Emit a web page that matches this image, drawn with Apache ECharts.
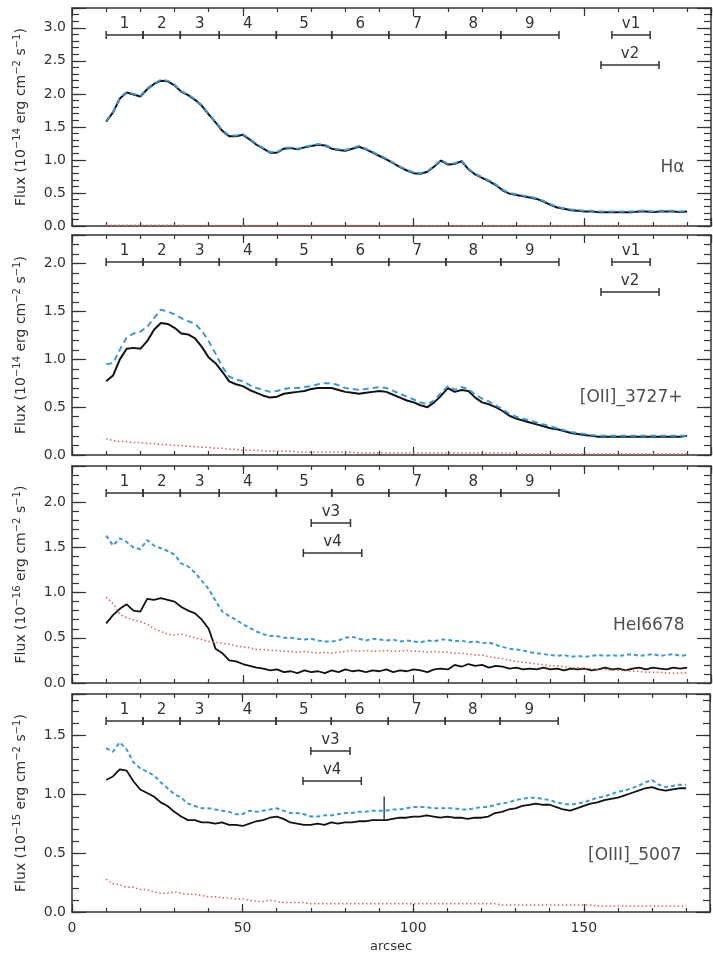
<!DOCTYPE html>
<html><head><meta charset="utf-8">
<script src="https://cdn.jsdelivr.net/npm/echarts@6/dist/echarts.min.js"></script>
<style>html,body{margin:0;padding:0;background:#fff}#c{width:713px;height:956px}</style>
</head><body><div id="c"></div>
<script>
// ---------------- DATA ----------------
const xs = [10,12,14,16,18,20,22,24,26,28,
 30,32,34,36,38,40,42,44,46,48,
 50,52,54,56,58,60,62,64,66,68,
 70,72,74,76,78,80,82,84,86,88,
 90,92,94,96,98,100,102,104,106,108,
 110,112,114,116,118,120,122,124,126,128,
 130,132,134,136,138,140,142,144,146,148,
 150,152,154,156,158,160,162,164,166,168,
 170,172,174,176,178,180];

const haObs = [1.58,1.72,1.93,2.02,1.99,1.96,2.07,2.15,2.20,2.19,
 2.13,2.03,1.98,1.91,1.82,1.69,1.57,1.44,1.36,1.36,
 1.38,1.31,1.23,1.17,1.11,1.11,1.17,1.18,1.16,1.19,
 1.21,1.23,1.22,1.17,1.15,1.14,1.17,1.20,1.16,1.11,
 1.06,1.01,0.95,0.89,0.84,0.80,0.79,0.82,0.90,0.99,
 0.93,0.94,0.98,0.86,0.78,0.73,0.68,0.62,0.54,0.49,
 0.47,0.45,0.43,0.41,0.37,0.32,0.28,0.26,0.24,0.23,
 0.22,0.22,0.21,0.21,0.21,0.21,0.21,0.21,0.22,0.22,
 0.21,0.22,0.22,0.22,0.21,0.22];
const haCor = [1.59,1.73,1.94,2.03,2.00,1.97,2.08,2.16,2.21,2.20,
 2.14,2.04,1.99,1.92,1.83,1.70,1.58,1.45,1.37,1.37,
 1.39,1.32,1.24,1.18,1.12,1.12,1.18,1.19,1.17,1.20,
 1.22,1.24,1.23,1.18,1.16,1.15,1.18,1.21,1.17,1.12,
 1.07,1.02,0.96,0.90,0.85,0.81,0.80,0.83,0.91,1.00,
 0.94,0.95,0.99,0.87,0.79,0.74,0.69,0.63,0.55,0.50,
 0.48,0.46,0.44,0.42,0.38,0.33,0.29,0.27,0.25,0.24,
 0.23,0.23,0.22,0.22,0.22,0.22,0.22,0.22,0.23,0.23,
 0.22,0.23,0.23,0.23,0.22,0.23];
const haRed = [0.012,0.012,0.011,0.011,0.011,0.010,0.010,0.010,0.010,0.010,
 0.010,0.010,0.009,0.009,0.009,0.009,0.009,0.009,0.008,0.008,
 0.008,0.008,0.008,0.008,0.008,0.007,0.007,0.007,0.007,0.007,
 0.007,0.007,0.007,0.007,0.006,0.006,0.006,0.006,0.006,0.006,
 0.006,0.006,0.006,0.006,0.006,0.005,0.005,0.005,0.005,0.005,
 0.005,0.005,0.005,0.005,0.005,0.005,0.005,0.005,0.004,0.004,
 0.004,0.004,0.004,0.004,0.004,0.004,0.004,0.004,0.004,0.004,
 0.004,0.004,0.004,0.004,0.004,0.004,0.004,0.004,0.004,0.004,
 0.004,0.004,0.004,0.004,0.004,0.004];

const oiiObs = [0.77,0.83,1.00,1.11,1.12,1.11,1.19,1.31,1.38,1.37,
 1.33,1.27,1.26,1.22,1.13,1.02,0.96,0.87,0.77,0.74,
 0.72,0.68,0.65,0.62,0.60,0.61,0.64,0.65,0.66,0.67,
 0.69,0.70,0.70,0.70,0.68,0.66,0.65,0.64,0.65,0.66,
 0.67,0.66,0.63,0.60,0.57,0.55,0.52,0.50,0.55,0.62,
 0.70,0.66,0.68,0.67,0.60,0.55,0.53,0.50,0.46,0.41,
 0.38,0.36,0.34,0.32,0.30,0.28,0.27,0.25,0.23,0.22,
 0.21,0.20,0.19,0.19,0.19,0.19,0.19,0.19,0.19,0.19,
 0.19,0.19,0.19,0.19,0.19,0.20];
const oiiCor = [0.95,0.96,1.10,1.23,1.27,1.29,1.34,1.43,1.52,1.50,
 1.47,1.43,1.40,1.37,1.30,1.19,1.06,0.92,0.82,0.79,
 0.77,0.73,0.70,0.68,0.66,0.67,0.69,0.70,0.70,0.71,
 0.72,0.74,0.75,0.75,0.73,0.70,0.69,0.68,0.69,0.70,
 0.71,0.70,0.67,0.64,0.61,0.58,0.55,0.53,0.57,0.65,
 0.72,0.68,0.71,0.69,0.63,0.59,0.56,0.52,0.48,0.43,
 0.40,0.38,0.36,0.34,0.32,0.30,0.28,0.26,0.24,0.23,
 0.22,0.21,0.20,0.20,0.20,0.20,0.20,0.20,0.20,0.20,
 0.20,0.20,0.20,0.20,0.20,0.20];
const oiiRed = [0.17,0.15,0.14,0.14,0.13,0.13,0.12,0.12,0.11,0.11,
 0.10,0.10,0.09,0.09,0.08,0.08,0.07,0.07,0.06,0.06,
 0.05,0.05,0.05,0.04,0.04,0.04,0.04,0.04,0.03,0.03,
 0.03,0.03,0.03,0.03,0.03,0.03,0.03,0.02,0.02,0.02,
 0.02,0.02,0.02,0.02,0.02,0.02,0.02,0.02,0.02,0.02,
 0.02,0.02,0.02,0.02,0.02,0.02,0.02,0.02,0.02,0.02,
 0.01,0.01,0.01,0.01,0.01,0.01,0.01,0.01,0.01,0.01,
 0.01,0.01,0.01,0.01,0.01,0.01,0.01,0.01,0.01,0.01,
 0.01,0.01,0.01,0.01,0.01,0.01];

const heiObs = [0.66,0.75,0.82,0.87,0.80,0.79,0.93,0.92,0.94,0.92,
 0.90,0.84,0.80,0.77,0.70,0.60,0.38,0.33,0.25,0.24,
 0.21,0.19,0.17,0.16,0.14,0.15,0.12,0.13,0.11,0.14,
 0.12,0.13,0.11,0.14,0.12,0.15,0.13,0.14,0.12,0.14,
 0.13,0.15,0.12,0.14,0.13,0.15,0.14,0.12,0.15,0.16,
 0.15,0.20,0.18,0.21,0.19,0.20,0.17,0.19,0.18,0.16,
 0.17,0.15,0.16,0.15,0.17,0.15,0.16,0.14,0.16,0.15,
 0.16,0.14,0.15,0.17,0.15,0.16,0.14,0.16,0.17,0.15,
 0.17,0.16,0.15,0.17,0.16,0.17];
const heiCor = [1.63,1.52,1.60,1.56,1.50,1.48,1.58,1.52,1.49,1.46,
 1.42,1.32,1.29,1.22,1.13,1.04,0.91,0.79,0.74,0.70,
 0.65,0.61,0.57,0.54,0.52,0.52,0.50,0.50,0.49,0.48,
 0.49,0.47,0.46,0.46,0.47,0.50,0.51,0.49,0.47,0.49,
 0.48,0.47,0.48,0.46,0.47,0.46,0.45,0.47,0.46,0.48,
 0.48,0.46,0.47,0.45,0.46,0.44,0.45,0.42,0.40,0.38,
 0.37,0.36,0.34,0.33,0.32,0.31,0.30,0.31,0.29,0.30,
 0.29,0.30,0.31,0.30,0.31,0.30,0.31,0.32,0.30,0.31,
 0.32,0.30,0.31,0.32,0.30,0.31];
const heiRed = [0.95,0.88,0.76,0.72,0.70,0.68,0.65,0.60,0.57,0.54,
 0.53,0.54,0.52,0.50,0.48,0.46,0.45,0.44,0.43,0.41,
 0.40,0.39,0.37,0.37,0.36,0.36,0.35,0.35,0.34,0.35,
 0.34,0.33,0.34,0.33,0.34,0.35,0.36,0.35,0.36,0.35,
 0.35,0.36,0.35,0.35,0.36,0.35,0.35,0.34,0.35,0.34,
 0.34,0.33,0.33,0.32,0.31,0.31,0.29,0.28,0.27,0.25,
 0.24,0.23,0.22,0.21,0.20,0.19,0.19,0.18,0.17,0.17,
 0.16,0.16,0.15,0.15,0.14,0.14,0.14,0.13,0.13,0.12,
 0.12,0.12,0.11,0.11,0.11,0.11];

const oiiiObs = [1.12,1.15,1.21,1.20,1.11,1.04,1.01,0.98,0.93,0.90,
 0.85,0.81,0.78,0.78,0.76,0.76,0.75,0.76,0.74,0.74,
 0.73,0.75,0.77,0.78,0.80,0.81,0.79,0.76,0.75,0.74,
 0.74,0.75,0.74,0.76,0.75,0.76,0.76,0.77,0.77,0.78,
 0.78,0.78,0.79,0.80,0.80,0.81,0.81,0.82,0.81,0.80,
 0.81,0.80,0.80,0.79,0.80,0.80,0.81,0.84,0.85,0.87,
 0.88,0.90,0.91,0.92,0.91,0.91,0.89,0.87,0.86,0.88,
 0.90,0.92,0.93,0.95,0.96,0.97,0.99,1.01,1.03,1.05,
 1.06,1.04,1.03,1.04,1.05,1.05];
const oiiiCor = [1.39,1.36,1.44,1.38,1.27,1.22,1.19,1.16,1.10,1.05,
 1.00,0.97,0.92,0.90,0.88,0.88,0.87,0.86,0.85,0.83,
 0.83,0.86,0.85,0.86,0.87,0.88,0.86,0.84,0.84,0.83,
 0.81,0.81,0.82,0.82,0.83,0.84,0.84,0.85,0.85,0.86,
 0.86,0.86,0.87,0.87,0.88,0.89,0.89,0.89,0.88,0.88,
 0.88,0.88,0.87,0.87,0.88,0.89,0.89,0.91,0.92,0.93,
 0.95,0.96,0.97,0.97,0.96,0.95,0.93,0.92,0.91,0.92,
 0.93,0.95,0.97,0.98,1.00,1.02,1.03,1.05,1.07,1.10,
 1.12,1.08,1.06,1.07,1.08,1.08];
const oiiiRed = [0.28,0.24,0.23,0.21,0.21,0.19,0.19,0.17,0.16,0.16,
 0.17,0.16,0.15,0.15,0.14,0.13,0.13,0.12,0.12,0.11,
 0.11,0.10,0.09,0.09,0.10,0.09,0.08,0.08,0.08,0.08,
 0.07,0.07,0.07,0.07,0.07,0.07,0.07,0.07,0.07,0.07,
 0.07,0.07,0.07,0.07,0.07,0.07,0.07,0.07,0.07,0.07,
 0.07,0.07,0.07,0.07,0.07,0.07,0.07,0.07,0.06,0.06,
 0.06,0.06,0.06,0.06,0.06,0.06,0.06,0.06,0.06,0.06,
 0.06,0.06,0.05,0.05,0.05,0.05,0.05,0.05,0.05,0.05,
 0.05,0.05,0.05,0.05,0.05,0.05];
const oiiiSpikeX = [91.5, 91.5];
const oiiiSpikeY = [0.78, 0.98];

// region bars (arcsec)
const regionEdges = [10, 20.8, 31.7, 43.1, 59.8, 76, 92.7, 109.4, 125.5, 142.5];
const regionNames = ['1','2','3','4','5','6','7','8','9'];
const v1 = [158, 169.2], v2 = [154.8, 171.8];
const v3 = [70, 81.5], v4 = [67.7, 84.8];

const yMaxes = [3.3, 2.3, 2.4, 1.85];
const exps = ['−14', '−14', '−16', '−15'];
const lineNames = ['Hα', '[OII]_3727+', 'HeI6678', '[OIII]_5007'];
const lineLabelPos = [[179.4, 0.88], [178.8, 0.60], [179.4, 0.63], [178.8, 0.48]];
const xMax = 187;

// ---------------- LAYOUT ----------------
const gridBox = [{top:8,height:218},{top:235,height:220},{top:466,height:217},{top:694,height:218}];
const rowOffsets = [27, 57, 87];
const AX = '#333';
const FONT = '"DejaVu Sans", "Liberation Sans", sans-serif';
const C_BLACK = '#111', C_BLUE = '#3a9ad9', C_RED = '#e0605a';

const chart = echarts.init(document.getElementById('c'), null, {renderer:'canvas'});
const grid = [], xAxis = [], yAxis = [], series = [];

const pairs = (xa, ya) => xa.map((x, i) => [x, ya[i]]);
const yFmt = v => { const r = Math.round(v*2)/2; return Math.abs(r - v) < 1e-6 ? v.toFixed(1) : ''; };
const xFmt = v => (Math.abs(v % 50) < 1e-6 ? String(v) : '');

const panelData = [
  [haObs, haCor, haRed],
  [oiiObs, oiiCor, oiiRed],
  [heiObs, heiCor, heiRed],
  [oiiiObs, oiiiCor, oiiiRed]
];

function annoItems(gi){
  const items = [];
  for (let k = 0; k < regionNames.length; k++) items.push({a:regionEdges[k], b:regionEdges[k+1], row:0, text:regionNames[k]});
  if (gi < 2) { items.push({a:v1[0], b:v1[1], row:0, text:'v1'}); items.push({a:v2[0], b:v2[1], row:1, text:'v2'}); }
  else { items.push({a:v3[0], b:v3[1], row:1, text:'v3'}); items.push({a:v4[0], b:v4[1], row:2, text:'v4'}); }
  return items;
}

for (let g = 0; g < 4; g++) {
  grid.push({left:72, width:639, top:gridBox[g].top, height:gridBox[g].height, containLabel:false});
  const last = g === 3;
  const xb = (pos, interval, len, line, lab) => ({
    type:'value', gridIndex:g, position:pos, min:0, max:xMax, interval,
    axisLine:{show:line, onZero:false, lineStyle:{color:AX, width:1.5}},
    axisTick:{show:true, inside:true, length:len, lineStyle:{color:AX, width:1.2}},
    axisLabel:{show:lab, formatter:xFmt, color:'#333', fontSize:14, fontFamily:FONT, margin:9},
    splitLine:{show:false},
    name: (lab ? 'arcsec' : ''), nameLocation:'middle', nameGap:28,
    nameTextStyle:{color:'#333', fontSize:13, fontFamily:FONT}
  });
  xAxis.push(xb('bottom', 50, 8, true, last));
  xAxis.push(xb('bottom', 10, 4, false, false));
  xAxis.push(xb('top', 50, 8, true, false));
  xAxis.push(xb('top', 10, 4, false, false));

  const yb = (pos, interval, len, line, lab) => ({
    type:'value', gridIndex:g, position:pos, min:0, max:yMaxes[g], interval,
    axisLine:{show:line, onZero:false, lineStyle:{color:AX, width:1.5}},
    axisTick:{show:true, inside:true, length:len, lineStyle:{color:AX, width:1.2}},
    axisLabel:{show:lab, formatter:yFmt, color:'#333', fontSize:14, fontFamily:FONT, margin:6},
    splitLine:{show:false},
    name: lab ? ('Flux (10{sup|' + exps[g] + '} erg cm{sup|−2} s{sup|−1})') : '',
    nameLocation:'middle', nameRotate:90, nameGap:42,
    nameTextStyle:{color:'#333', fontSize:14, fontFamily:FONT,
      rich:{sup:{fontSize:10, fontFamily:FONT, color:'#333', verticalAlign:'top', padding:[0,0,8,0]}}}
  });
  yAxis.push(yb('left', 0.5, 14, true, true));
  yAxis.push(yb('left', 0.1, 7, false, false));
  yAxis.push(yb('right', 0.5, 14, true, false));
  yAxis.push(yb('right', 0.1, 7, false, false));

  const xi = g*4, yi = g*4;
  const [obs, cor, red] = panelData[g];
  series.push({type:'line', xAxisIndex:xi, yAxisIndex:yi, data:pairs(xs, obs), showSymbol:false, symbol:'none',
    lineStyle:{color:C_BLACK, width:(g < 2 ? 2 : 1.8)}, z:3, silent:true});
  series.push({type:'line', xAxisIndex:xi, yAxisIndex:yi, data:pairs(xs, cor), showSymbol:false, symbol:'none',
    lineStyle:{color:C_BLUE, width:2, type:(g < 2 ? [6,4] : [4,3])}, z:4, silent:true});
  series.push({type:'line', xAxisIndex:xi, yAxisIndex:yi, data:pairs(xs, red), showSymbol:false, symbol:'none',
    lineStyle:{color:C_RED, width:1.5, type:[1.5,2.5]}, z:4, silent:true});
  if (g === 3) {
    series.push({type:'line', xAxisIndex:xi, yAxisIndex:yi, data:pairs(oiiiSpikeX, oiiiSpikeY), showSymbol:false, symbol:'none',
      lineStyle:{color:'#1f4f7a', width:1.5}, z:5, silent:true});
  }
  const items = annoItems(g);
  const ymax = yMaxes[g];
  series.push({type:'custom', xAxisIndex:xi, yAxisIndex:yi, clip:false, silent:true, z:6,
    data: items.map(it => [it.a, it.b]), encode:{x:[0,1]},
    renderItem(params, api){
      const it = items[params.dataIndex];
      const p0 = api.coord([it.a, ymax]), p1 = api.coord([it.b, ymax]);
      const y = p0[1] + rowOffsets[it.row];
      const st = {stroke:'#333', lineWidth:1.5};
      return {type:'group', children:[
        {type:'line', shape:{x1:p0[0], y1:y, x2:p1[0], y2:y}, style:st},
        {type:'line', shape:{x1:p0[0], y1:y-4, x2:p0[0], y2:y+4}, style:st},
        {type:'line', shape:{x1:p1[0], y1:y-4, x2:p1[0], y2:y+4}, style:st},
        {type:'text', x:(p0[0]+p1[0])/2, y:y-3, style:{text:it.text, align:'center', verticalAlign:'bottom',
          textAlign:'center', textVerticalAlign:'bottom', font:'15px ' + FONT, fill:'#333'}}
      ]};
    }});
  series.push({type:'scatter', xAxisIndex:xi, yAxisIndex:yi, silent:true, symbolSize:1,
    itemStyle:{color:'rgba(0,0,0,0)'}, z:6,
    data:[{value:lineLabelPos[g], name:lineNames[g]}],
    label:{show:true, position:'left', distance:0, formatter:'{b}', color:'#222', fontSize:17, fontFamily:FONT}});
}

chart.setOption({animation:false, backgroundColor:'#fff', grid, xAxis, yAxis, series});
</script>
</body></html>
